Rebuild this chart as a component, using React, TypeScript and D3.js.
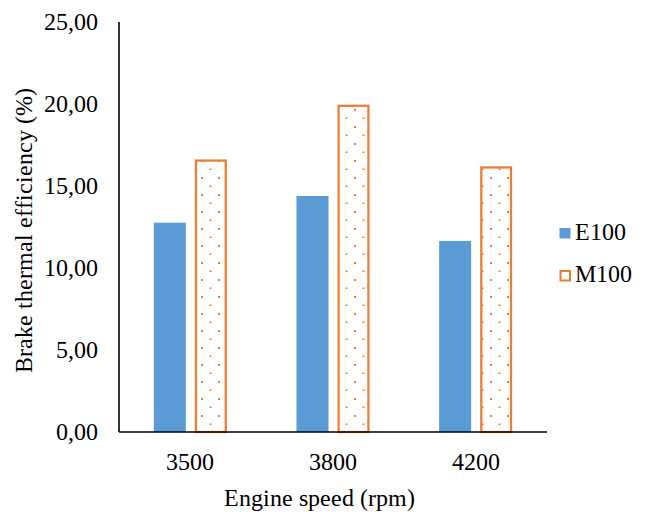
import React from "react";
import * as d3 from "d3";

// Engine speeds and brake thermal efficiency (%) for each fuel
const categories = ["3500", "3800", "4200"];
const seriesNames = ["E100", "M100"];
const e100 = [12.76, 14.39, 11.65];
const m100 = [16.62, 19.96, 16.2];
const yTicks = [0, 5, 10, 15, 20, 25];

const W = 648;
const H = 512;
const BLUE = "#5B9BD5";
const ORANGE = "#ED7D31";

const css = `
@font-face { font-family: "ChartSerif"; src: local("Liberation Serif"), local("LiberationSerif"), local("Times New Roman"), local("Tinos"); }
.chart text { font-family: "ChartSerif", "Liberation Serif", "Times New Roman", Tinos, serif; font-size: 24px; fill: #000; }
`;

const left = 119;
const right = 547;
const top = 22;
const bottom = 432;

const x0 = d3
  .scaleBand<string>()
  .domain(categories)
  .range([left, right])
  .paddingInner(0.488)
  .paddingOuter(0.244);
const x1 = d3
  .scaleBand<string>()
  .domain(seriesNames)
  .range([0, x0.bandwidth()])
  .paddingInner(0.2195)
  .paddingOuter(0);
const y = d3.scaleLinear().domain([0, 25]).range([bottom, top]);

const fmt = d3
  .formatLocale({ decimal: ",", thousands: ".", grouping: [3], currency: ["", ""] })
  .format(".2f");

const SW = 2.25;

export default function App() {
  return (
    <svg
      className="chart"
      width={W}
      height={H}
      style={{ position: "absolute", left: 0, top: 0, background: "#fff" }}
    >
      <style>{css}</style>
      <defs>
        {/* dotted fill for M100 */}
        <pattern id="dots" patternUnits="userSpaceOnUse" x={0} y={0} width={17} height={17}>
          <rect width={17} height={17} fill="#fff" />
          <rect x={14} y={7} width={2} height={2} fill={ORANGE} />
          <rect x={5.5} y={15.5} width={2} height={1.6} fill={ORANGE} />
        </pattern>
      </defs>

      {/* E100 bars */}
      {e100.map((v, i) => (
        <rect
          key={"e" + i}
          x={(x0(categories[i]) as number) + (x1("E100") as number)}
          y={y(v)}
          width={x1.bandwidth()}
          height={y(0) - y(v)}
          fill={BLUE}
        />
      ))}

      {/* M100 bars */}
      {m100.map((v, i) => (
        <rect
          key={"m" + i}
          x={(x0(categories[i]) as number) + (x1("M100") as number) + SW / 2}
          y={y(v) + SW / 2}
          width={x1.bandwidth() - SW}
          height={y(0) - y(v) - SW / 2}
          fill="url(#dots)"
          stroke={ORANGE}
          strokeWidth={SW}
        />
      ))}

      {/* axes */}
      <line x1={left} x2={left} y1={top} y2={bottom} stroke="#000" strokeWidth={1.6} />
      <line x1={left} x2={right} y1={bottom} y2={bottom} stroke="#000" strokeWidth={1.6} />

      {yTicks.map((t) => (
        <text key={t} x={left - 21} y={y(t)} dy="0.32em" textAnchor="end">
          {fmt(t)}
        </text>
      ))}

      {categories.map((c) => (
        <text
          key={c}
          x={(x0(c) as number) + x0.bandwidth() / 2}
          y={bottom + 21}
          dy="0.71em"
          textAnchor="middle"
        >
          {c}
        </text>
      ))}

      {/* axis titles */}
      <text x={319} y={506} textAnchor="middle">
        Engine speed (rpm)
      </text>
      <text transform="translate(32,230) rotate(-90)" textAnchor="middle">
        Brake thermal efficiency (%)
      </text>

      {/* legend */}
      <rect x={559.5} y={228} width={11} height={10.5} fill={BLUE} />
      <text x={575} y={239.5}>
        {seriesNames[0]}
      </text>
      <rect
        x={560.5}
        y={271}
        width={9.5}
        height={9.5}
        fill="#fff"
        stroke={ORANGE}
        strokeWidth={2}
      />
      <text x={575} y={281.5}>
        {seriesNames[1]}
      </text>
    </svg>
  );
}
